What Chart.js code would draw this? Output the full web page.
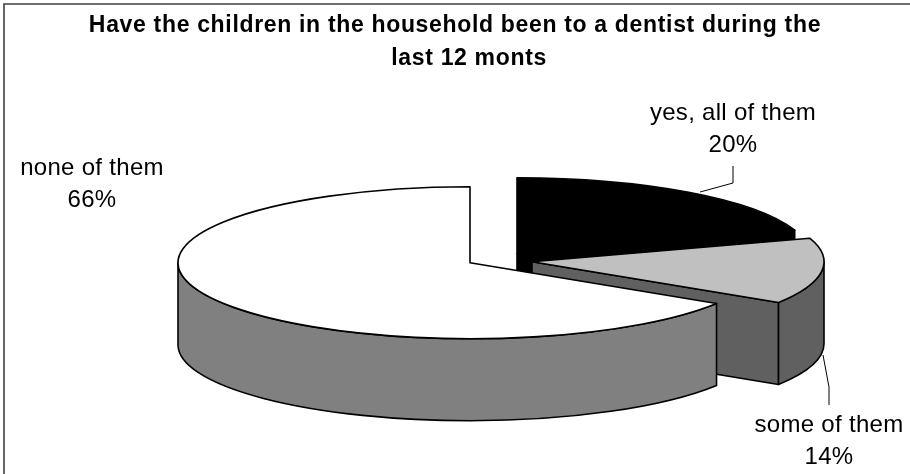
<!DOCTYPE html>
<html lang="en">
<head>
    <meta charset="UTF-8">
    <title>Dentist visits</title>
    <script src="https://cdn.jsdelivr.net/npm/chart.js"></script>
    <style>
        html, body { margin: 0; padding: 0; background: #fff; }
        #wrap { width: 910px; height: 474px; }
    </style>
</head>
<body>
    <div id="wrap"><canvas id="chart"></canvas></div>
    <script>
        const categories = ['yes, all of them', 'some of them', 'none of them'];
        const shares = [20, 14, 66];
        const topColors = ['#000000', '#c0c0c0', '#ffffff'];
        const sideColors = ['#000000', '#606060', '#808080'];
        const titleLines = ['Have the children in the household been to a dentist during the', 'last 12 monts'];

        // the picture is a tilted, exploded pie, so squash the circle and extrude it
        const squash = 76 / 292;
        const depth = 82;
        const explode = [[62, -9], [77, -1], [15, 0]];
        const labelSpots = [[733, 113], [829, 425], [92, 168]];
        const leaders = [
            [[700, 192], [733, 183], [733, 166]],
            [[823, 355], [829, 387], [829, 405]]
        ];

        const pie3d = {
            id: 'pie3d',
            beforeDraw(chart) {
                const ctx = chart.ctx;
                ctx.save();
                ctx.strokeStyle = '#404040';
                ctx.lineWidth = 1.6;
                ctx.beginPath();
                ctx.moveTo(4, 474);
                ctx.lineTo(4, 4);
                ctx.lineTo(910, 4);
                ctx.stroke();
                ctx.restore();
                // title is drawn next and needs the wider spacing of the original
                ctx.letterSpacing = '0.67px';
            },
            beforeDatasetDraw(chart) {
                const ctx = chart.ctx;
                const arcs = chart.getDatasetMeta(0).data;
                ctx.letterSpacing = '0px';
                ctx.save();
                ctx.lineWidth = 1.6;
                ctx.lineJoin = 'round';
                ctx.strokeStyle = '#000';
                arcs.forEach((arc, i) => {
                    const rx = arc.outerRadius;
                    const ry = rx * squash;
                    const cx = arc.x + explode[i][0];
                    const cy = arc.y + explode[i][1];
                    const a0 = arc.startAngle;
                    const a1 = arc.endAngle;
                    const px = a => cx + rx * Math.cos(a);
                    const py = a => cy + ry * Math.sin(a);

                    ctx.fillStyle = sideColors[i];
                    // radial face at the end of the slice, when it looks at the viewer
                    if (Math.cos(a1) > 0.001) {
                        ctx.beginPath();
                        ctx.moveTo(cx, cy);
                        ctx.lineTo(px(a1), py(a1));
                        ctx.lineTo(px(a1), py(a1) + depth);
                        ctx.lineTo(cx, cy + depth);
                        ctx.closePath();
                        ctx.fill();
                        ctx.stroke();
                    }
                    // outer wall, only the part between 3 and 9 o'clock shows
                    const from = Math.max(a0, 0);
                    const to = Math.min(a1, Math.PI);
                    if (to > from) {
                        ctx.beginPath();
                        ctx.ellipse(cx, cy, rx, ry, 0, from, to);
                        ctx.lineTo(px(to), py(to) + depth);
                        ctx.ellipse(cx, cy + depth, rx, ry, 0, to, from, true);
                        ctx.closePath();
                        ctx.fill();
                        ctx.stroke();
                    }
                    // top face
                    ctx.fillStyle = topColors[i];
                    ctx.beginPath();
                    ctx.moveTo(cx, cy);
                    ctx.ellipse(cx, cy, rx, ry, 0, a0, a1);
                    ctx.closePath();
                    ctx.fill();
                    ctx.stroke();
                });
                ctx.restore();
                return false;
            },
            afterDatasetsDraw(chart) {
                const ctx = chart.ctx;
                ctx.save();
                ctx.strokeStyle = '#000';
                ctx.lineWidth = 1;
                leaders.forEach(pts => {
                    ctx.beginPath();
                    pts.forEach((p, k) => k ? ctx.lineTo(p[0], p[1]) : ctx.moveTo(p[0], p[1]));
                    ctx.stroke();
                });
                ctx.fillStyle = '#000';
                ctx.font = '24px "Liberation Sans"';
                ctx.letterSpacing = '0.3px';
                ctx.textAlign = 'center';
                ctx.textBaseline = 'middle';
                categories.forEach((name, i) => {
                    ctx.fillText(name, labelSpots[i][0], labelSpots[i][1]);
                    ctx.fillText(shares[i] + '%', labelSpots[i][0], labelSpots[i][1] + 32);
                });
                ctx.restore();
            }
        };

        new Chart(document.getElementById('chart'), {
            type: 'pie',
            data: {
                labels: categories,
                datasets: [{ data: shares, backgroundColor: topColors, borderWidth: 0 }]
            },
            options: {
                responsive: true,
                maintainAspectRatio: false,
                animation: false,
                radius: 292,
                layout: { padding: { top: 0, bottom: 23 } },
                plugins: {
                    legend: { display: false },
                    tooltip: { enabled: false },
                    title: {
                        display: true,
                        // second line sits right of centre in the original
                        text: [titleLines[0], '    ' + titleLines[1]],
                        color: '#000',
                        font: { family: '"Liberation Sans"', size: 23, weight: 'bold', lineHeight: 1.4 },
                        padding: { top: 10, bottom: 0 }
                    }
                }
            },
            plugins: [pie3d]
        });
    </script>
</body>
</html>
